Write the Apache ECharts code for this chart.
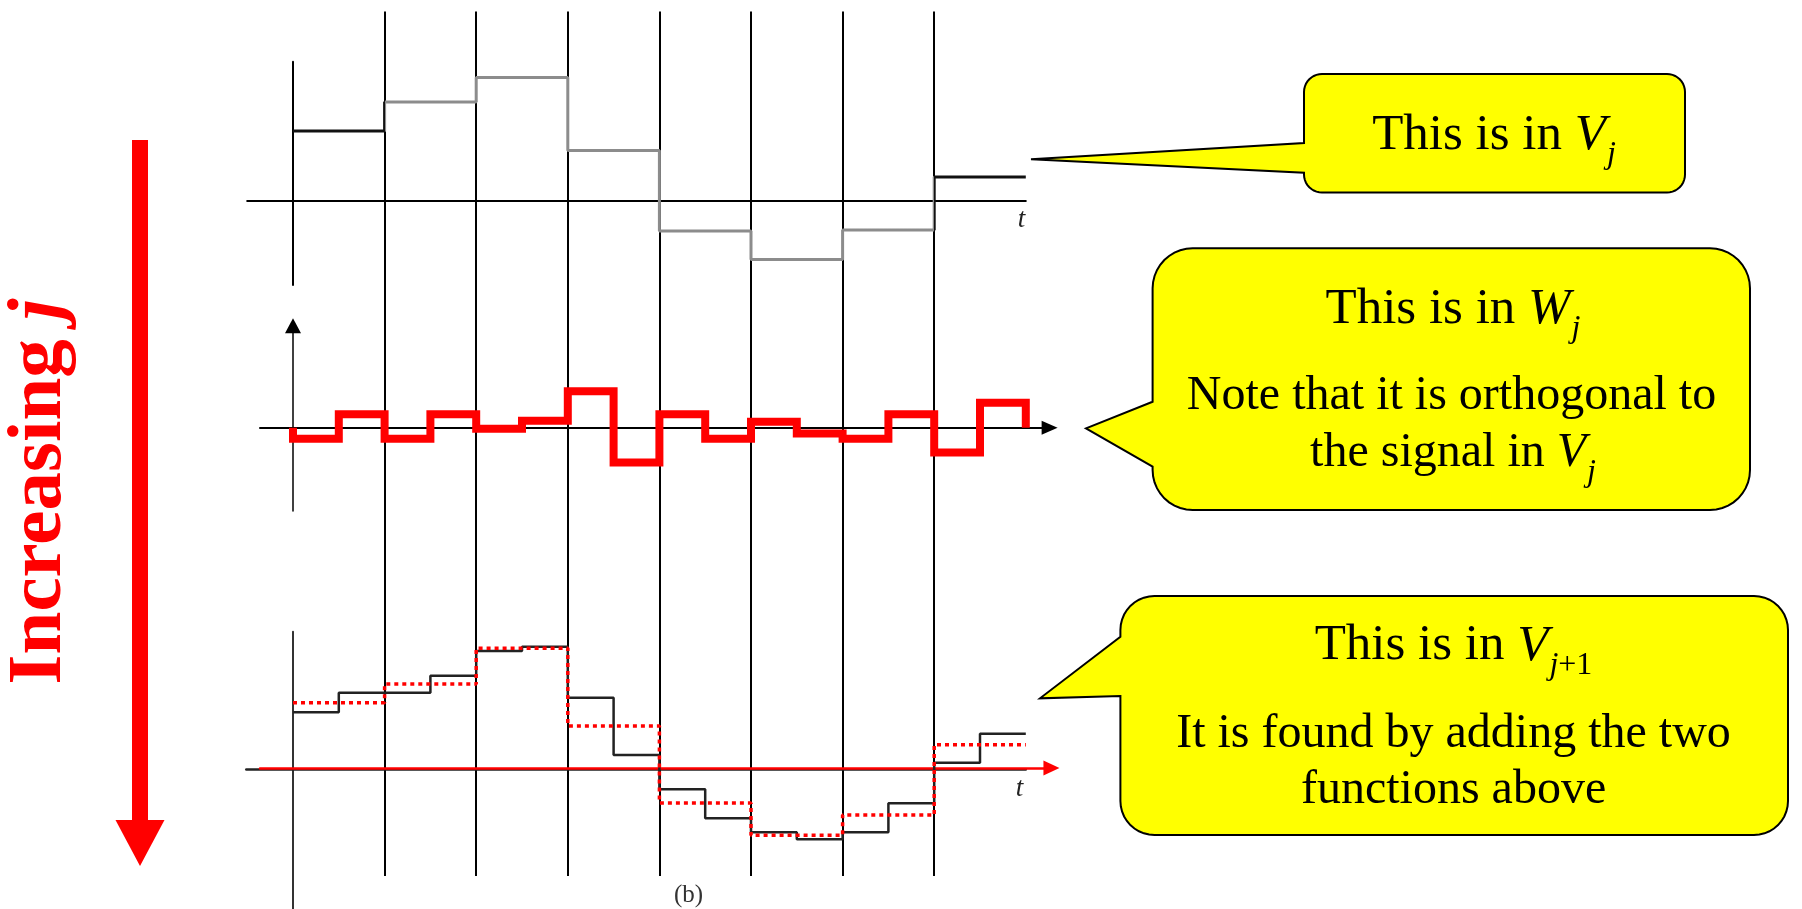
<!DOCTYPE html>
<html>
<head>
<meta charset="utf-8">
<script src="https://cdn.jsdelivr.net/npm/echarts@6/dist/echarts.min.js"></script>
<style>
html,body{margin:0;padding:0;background:#fff;}
#chart{width:1802px;height:909px;}
</style>
</head>
<body>
<div id="chart"></div>
<script>
// ---------------- data (arbitrary amplitude units) ----------------
// coarse signal in V_j (top panel), one value per unit interval t = 0..8
const vjTop = [7.0, 9.9, 12.35, 5.05, -3.0, -5.85, -2.9, 2.4];
// detail signal in W_j (middle panel), one value per half interval
const wjMid = [-1.1, 1.34, -1.1, 1.34, -0.1, 0.7, 3.64, -3.48, 1.34, -1.1, 0.6, -0.58, -1.1, 1.34, -2.48, 2.49];
// V_j repeated in the bottom panel (dotted red)
const vjBottom = [6.63, 8.5, 12.07, 4.3, -3.4, -6.63, -4.6, 2.43];
// fine signal in V_{j+1} (bottom panel, black), one value per half interval
const vj1Bottom = [5.67, 7.63, 7.63, 9.33, 11.8, 12.23, 7.13, 1.4, -2.03, -4.93, -6.33, -7.03, -6.33, -3.43, 0.63, 3.53];
// vertical guide lines at the coarse interval boundaries
const guideTicks = [1, 7];

// ---------------- helpers ----------------
const SERIF = '"Liberation Serif", "Times New Roman", serif';
const X0 = 293, UX = 91.6;           // pixel of t=0 and pixels per unit of t
function hGrid(xmin, xmax) { return { left: X0 + xmin * UX, width: (xmax - xmin) * UX }; }
function stepData(vals, dt) {
  const d = vals.map((v, i) => [i * dt, v]);
  d.push([vals.length * dt, vals[vals.length - 1]]);
  return d;
}
function hiddenAxis(extra) {
  return Object.assign({ type: 'value', show: true, axisLine: { show: false }, axisTick: { show: false },
    axisLabel: { show: false }, splitLine: { show: false } }, extra || {});
}
function arcPts(cx, cy, r, a0, a1) {
  const pts = [];
  const n = 10;
  for (let k = 0; k <= n; k++) {
    const a = a0 + (a1 - a0) * k / n;
    pts.push([cx + r * Math.cos(a), cy + r * Math.sin(a)]);
  }
  return pts;
}
function bubblePts(L, T, R, B, r, p1y, tx, ty, p2y) {
  const P = Math.PI;
  let pts = [];
  pts = pts.concat(arcPts(R - r, T + r, r, -P / 2, 0));        // top-right
  pts = pts.concat(arcPts(R - r, B - r, r, 0, P / 2));         // bottom-right
  pts = pts.concat(arcPts(L + r, B - r, r, P / 2, P));         // bottom-left
  pts.push([L, p2y], [tx, ty], [L, p1y]);                      // pointer
  pts = pts.concat(arcPts(L + r, T + r, r, P, 1.5 * P));       // top-left
  return pts;
}
function bubble(args) {
  return { type: 'polygon', silent: true, z: 90,
    shape: { points: bubblePts.apply(null, args) },
    style: { fill: '#ffff00', stroke: '#000', lineWidth: 2 } };
}
function txt(x, y, text, size, rich, extraStyle) {
  return {
    type: 'text', x: x, y: y, silent: true, z: 100,
    style: Object.assign({
      text: text, fontSize: size, fontFamily: SERIF, fill: '#000',
      align: 'center', verticalAlign: 'middle',
      rich: rich || undefined
    }, extraStyle || {})
  };
}
function headRich(size, sub) {
  return {
    n: { fontSize: size, fontFamily: SERIF, fill: '#000' },
    v: { fontSize: size, fontFamily: SERIF, fontStyle: 'italic', fill: '#000' },
    s: { fontSize: sub, fontFamily: SERIF, fontStyle: 'italic', fill: '#000', padding: [38, 0, 0, 1] },
    p: { fontSize: sub, fontFamily: SERIF, fill: '#000', padding: [38, 0, 0, 0] }
  };
}

// ---------------- chart ----------------
const chart = echarts.init(document.getElementById('chart'), null, { renderer: 'canvas' });

const option = {
  backgroundColor: '#ffffff',
  animation: false,
  grid: [
    Object.assign(hGrid(1, 7), { top: 11.5, height: 864.5 }),          // 0 guides
    Object.assign(hGrid(-0.5, 8), { top: 61.7, height: 223.3 }),       // 1 top panel
    Object.assign(hGrid(-0.36, 8.26), { top: 325.8, height: 185.2 }),  // 2 middle panel
    Object.assign(hGrid(-0.51, 8), { top: 631.7, height: 277.3 }),     // 3 bottom panel
    Object.assign(hGrid(-0.36, 8.28), { top: 758, height: 10 }),       // 4 red t-axis
    { left: 140, width: 10, top: 140, height: 703 }                    // 5 "Increasing j" arrow
  ],
  xAxis: [
    hiddenAxis({ gridIndex: 0, min: guideTicks[0], max: guideTicks[1], interval: 1,
      splitLine: { show: true, lineStyle: { color: '#000', width: 2 } } }),
    hiddenAxis({ gridIndex: 1, min: -0.5, max: 8,
      axisLine: { show: true, onZero: true, lineStyle: { color: '#000', width: 2 } } }),
    hiddenAxis({ gridIndex: 2, min: -0.36, max: 8.26,
      axisLine: { show: true, onZero: true, symbol: ['none', 'triangle'], symbolSize: [14, 16],
        lineStyle: { color: '#000', width: 2 } } }),
    hiddenAxis({ gridIndex: 3, min: -0.51, max: 8,
      axisLine: { show: true, onZero: true, lineStyle: { color: '#222', width: 2.5 } } }),
    hiddenAxis({ gridIndex: 4, min: -0.36, max: 8.28, position: 'bottom',
      axisLine: { show: true, onZero: false, symbol: ['none', 'triangle'], symbolSize: [15, 16],
        lineStyle: { color: '#ff0000', width: 2.5 } } }),
    hiddenAxis({ gridIndex: 5, min: 0, max: 1 })
  ],
  yAxis: [
    hiddenAxis({ gridIndex: 0, min: 0, max: 1 }),
    hiddenAxis({ gridIndex: 1, min: -8.4, max: 13.93,
      axisLine: { show: true, onZero: true, lineStyle: { color: '#000', width: 2 } } }),
    hiddenAxis({ gridIndex: 2, min: -8.33, max: 10.19,
      axisLine: { show: true, onZero: true, symbol: ['none', 'triangle'], symbolSize: [16, 15],
        lineStyle: { color: '#000', width: 1.5 } } }),
    hiddenAxis({ gridIndex: 3, min: -14.0, max: 13.73,
      axisLine: { show: true, onZero: true, lineStyle: { color: '#333', width: 2 } } }),
    hiddenAxis({ gridIndex: 4, min: -1, max: 1 }),
    hiddenAxis({ gridIndex: 5, min: 0, max: 1, position: 'left',
      axisLine: { show: true, onZero: false, symbol: ['triangle', 'none'], symbolSize: [49, 46],
        lineStyle: { color: '#ff0000', width: 16, cap: 'butt' } },
      name: '{b|Increasing }{bi|j}', nameLocation: 'middle', nameGap: 61,
      nameTextStyle: {
        color: '#ff0000', fontFamily: SERIF, fontSize: 77, fontWeight: 'bold',
        rich: {
          b: { color: '#ff0000', fontFamily: SERIF, fontSize: 77, fontWeight: 'bold' },
          bi: { color: '#ff0000', fontFamily: SERIF, fontSize: 77, fontWeight: 'bold', fontStyle: 'italic' }
        }
      } })
  ],
  visualMap: [{
    type: 'piecewise', show: false, seriesIndex: 0, dimension: 0,
    pieces: [
      { lt: 1, color: '#111111' },
      { gte: 1, lt: 7, color: '#8c8c8c' },
      { gte: 7, color: '#111111' }
    ]
  }],
  series: [
    { name: 'V_j', type: 'line', step: 'end', xAxisIndex: 1, yAxisIndex: 1, symbol: 'none', silent: true,
      data: stepData(vjTop, 1), lineStyle: { width: 3 } },
    { name: 'W_j', type: 'line', step: 'end', xAxisIndex: 2, yAxisIndex: 2, symbol: 'none', silent: true,
      data: [[0, 0]].concat(stepData(wjMid, 0.5), [[wjMid.length * 0.5, 0]]),
      lineStyle: { width: 8, color: '#ff0000', join: 'miter' } },
    { name: 'V_j+1', type: 'line', step: 'end', xAxisIndex: 3, yAxisIndex: 3, symbol: 'none', silent: true,
      data: stepData(vj1Bottom, 0.5), lineStyle: { width: 2.5, color: '#222' } },
    { name: 'V_j (dotted)', type: 'line', step: 'end', xAxisIndex: 3, yAxisIndex: 3, symbol: 'none', silent: true,
      data: stepData(vjBottom, 1), lineStyle: { width: 3.5, color: '#ff0000', type: [4, 4] } }
  ],
  graphic: [
    bubble([1304, 74, 1685, 192.5, 18, 143, 1031, 159.3, 172.7]),
    bubble([1152.6, 248.3, 1750, 510, 40, 401.7, 1086, 428.3, 466.7]),
    bubble([1120.4, 596, 1788, 835, 34, 636.7, 1040, 698.3, 696]),

    txt(1494, 135.5, '{n|This is in }{v|V}{s|j}', 51, headRich(51, 32)),
    txt(1453, 309.5, '{n|This is in }{v|W}{s|j}', 51, headRich(51, 32)),
    txt(1451.5, 396.8, 'Note that it is orthogonal to', 48),
    txt(1453, 453.8, '{n|the signal in }{v|V}{s|j}', 48, headRich(48, 32)),
    txt(1453.5, 646.1, '{n|This is in }{v|V}{s|j}{p|+1}', 51, headRich(51, 32)),
    txt(1453.5, 734.5, 'It is found by adding the two', 48),
    txt(1453.6, 790.5, 'functions above', 48),

    txt(1021.5, 219.5, 't', 27, null, { fontStyle: 'italic', fill: '#222' }),
    txt(1019.5, 788.5, 't', 27, null, { fontStyle: 'italic', fill: '#222' }),
    txt(688.5, 895, '(b)', 25, null, { fill: '#333' })
  ]
};
chart.setOption(option);
</script>
</body>
</html>
